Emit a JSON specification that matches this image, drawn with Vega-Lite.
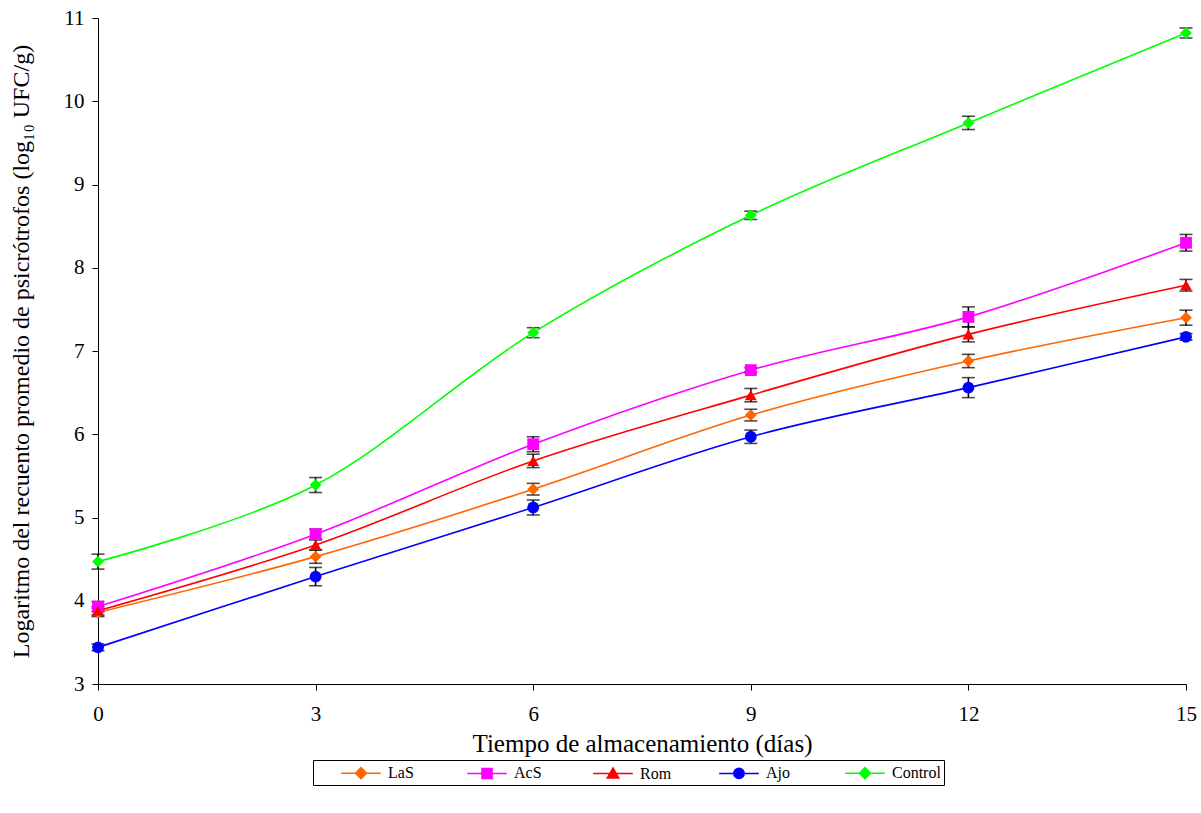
{
  "$schema": "https://vega.github.io/schema/vega-lite/v6.json",
  "width": 1088,
  "height": 666,
  "autosize": {"type": "none"},
  "padding": {"left": 98, "top": 18, "right": 15, "bottom": 129},
  "background": "white",
  "config": {"view": {"stroke": null}, "font": "Liberation Serif"},
  "data": {
    "values": [
      {"dia": 0, "serie": "LaS", "valor": 3.86, "err": 0.05},
      {"dia": 3, "serie": "LaS", "valor": 4.53, "err": 0.08},
      {"dia": 6, "serie": "LaS", "valor": 5.34, "err": 0.07},
      {"dia": 9, "serie": "LaS", "valor": 6.23, "err": 0.07},
      {"dia": 12, "serie": "LaS", "valor": 6.88, "err": 0.08},
      {"dia": 15, "serie": "LaS", "valor": 7.4, "err": 0.09},
      {"dia": 0, "serie": "AcS", "valor": 3.93, "err": 0.06},
      {"dia": 3, "serie": "AcS", "valor": 4.8, "err": 0.06},
      {"dia": 6, "serie": "AcS", "valor": 5.88, "err": 0.09},
      {"dia": 9, "serie": "AcS", "valor": 6.77, "err": 0.03},
      {"dia": 12, "serie": "AcS", "valor": 7.41, "err": 0.12},
      {"dia": 15, "serie": "AcS", "valor": 8.3, "err": 0.1},
      {"dia": 0, "serie": "Rom", "valor": 3.88, "err": 0.05},
      {"dia": 3, "serie": "Rom", "valor": 4.67, "err": 0.06},
      {"dia": 6, "serie": "Rom", "valor": 5.68, "err": 0.08},
      {"dia": 9, "serie": "Rom", "valor": 6.47, "err": 0.08},
      {"dia": 12, "serie": "Rom", "valor": 7.2, "err": 0.09},
      {"dia": 15, "serie": "Rom", "valor": 7.79, "err": 0.07},
      {"dia": 0, "serie": "Ajo", "valor": 3.44, "err": 0.04},
      {"dia": 3, "serie": "Ajo", "valor": 4.29, "err": 0.11},
      {"dia": 6, "serie": "Ajo", "valor": 5.12, "err": 0.09},
      {"dia": 9, "serie": "Ajo", "valor": 5.97, "err": 0.08},
      {"dia": 12, "serie": "Ajo", "valor": 6.56, "err": 0.12},
      {"dia": 15, "serie": "Ajo", "valor": 7.17, "err": 0.04},
      {"dia": 0, "serie": "Control", "valor": 4.47, "err": 0.09},
      {"dia": 3, "serie": "Control", "valor": 5.39, "err": 0.09},
      {"dia": 6, "serie": "Control", "valor": 7.22, "err": 0.06},
      {"dia": 9, "serie": "Control", "valor": 8.63, "err": 0.05},
      {"dia": 12, "serie": "Control", "valor": 9.74, "err": 0.08},
      {"dia": 15, "serie": "Control", "valor": 10.82, "err": 0.06}
    ]
  },
  "encoding": {
    "x": {
      "field": "dia",
      "type": "quantitative",
      "scale": {"domain": [0, 15], "nice": false, "zero": false},
      "axis": {
        "title": "Tiempo de almacenamiento (días)",
        "values": [0, 3, 6, 9, 12, 15],
        "format": "d",
        "labelFlush": false,
        "grid": false,
        "domainColor": "black",
        "domainWidth": 1,
        "tickColor": "black",
        "tickSize": 6,
        "labelFont": "Liberation Serif",
        "labelFontSize": 21,
        "labelColor": "black",
        "labelPadding": 13,
        "titleFont": "Liberation Serif",
        "titleFontSize": 25,
        "titleFontWeight": "normal",
        "titleColor": "black",
        "titlePadding": 7
      }
    },
    "y": {
      "field": "valor",
      "type": "quantitative",
      "scale": {"domain": [3, 11], "nice": false, "zero": false},
      "axis": {
        "title": "Logaritmo del recuento promedio de psicrótrofos (log₁₀ UFC/g)",
        "values": [3, 4, 5, 6, 7, 8, 9, 10, 11],
        "format": "d",
        "labelFlush": false,
        "grid": false,
        "domainColor": "black",
        "tickColor": "black",
        "tickSize": 6,
        "labelFont": "Liberation Serif",
        "labelFontSize": 21,
        "labelColor": "black",
        "labelPadding": 8,
        "titleFont": "Liberation Serif",
        "titleFontSize": 24,
        "titleFontWeight": "normal",
        "titleColor": "black",
        "titlePadding": 30
      }
    }
  },
  "layer": [
    {
      "mark": {"type": "line", "interpolate": "cardinal", "strokeWidth": 1.6},
      "encoding": {
        "color": {
          "field": "serie",
          "type": "nominal",
          "scale": {
            "domain": ["LaS", "AcS", "Rom", "Ajo", "Control"],
            "range": ["#FF6600", "#FF00FF", "#FF0000", "#0000FF", "#00FF00"]
          }
        }
      }
    },
    {
      "mark": {
        "type": "errorbar",
        "ticks": {"size": 13, "thickness": 1.6, "color": "black"},
        "rule": {"strokeWidth": 1.6, "color": "black"}
      },
      "encoding": {
        "yError": {"field": "err"}
      }
    },
    {
      "mark": {"type": "point", "filled": true, "opacity": 1},
      "encoding": {
        "color": {"field": "serie", "type": "nominal"},
        "shape": {
          "condition": [
            {"test": "datum.serie === 'AcS'", "value": "square"},
            {"test": "datum.serie === 'Rom'", "value": "triangle-up"},
            {"test": "datum.serie === 'Ajo'", "value": "circle"}
          ],
          "value": "diamond"
        },
        "size": {"value": 140}
      }
    },
    {
      "transform": [{"filter": "datum.dia < 0"}],
      "mark": {"type": "point", "filled": false, "opacity": 1, "strokeWidth": 1.5},
      "encoding": {
        "color": {
          "field": "serie",
          "type": "nominal",
          "legend": {
            "title": null,
            "orient": "none",
            "legendX": 215,
            "legendY": 742,
            "direction": "horizontal",
            "columns": 5,
            "gridAlign": "all",
            "columnPadding": 5,
            "strokeColor": "black",
            "padding": 3,
            "symbolSize": 324,
            "symbolOffset": 35,
            "labelOffset": 17,
            "symbolStrokeWidth": 1.5,
            "symbolOpacity": 1,
            "labelFont": "Liberation Serif",
            "labelFontSize": 16,
            "labelColor": "black",
            "encode": {
              "symbols": {
                "fill": {"value": {"expr": "scale('color', datum.value)"}},
                "stroke": {"value": {"expr": "scale('color', datum.value)"}}
              }
            }
          }
        },
        "shape": {
          "field": "serie",
          "type": "nominal",
          "scale": {
            "domain": ["LaS", "AcS", "Rom", "Ajo", "Control"],
            "range": [
              "M-2.2,0L2.2,0M0,-0.62L0.62,0L0,0.62L-0.62,0Z",
              "M-2.2,0L2.2,0M-0.56,-0.56L0.56,-0.56L0.56,0.56L-0.56,0.56Z",
              "M-2.2,0L2.2,0M0,-0.62L0.64,0.5L-0.64,0.5Z",
              "M-2.2,0L2.2,0M0.58,0A0.58,0.58 0 1,1 -0.58,0A0.58,0.58 0 1,1 0.58,0Z",
              "M-2.2,0L2.2,0M0,-0.62L0.62,0L0,0.62L-0.62,0Z"
            ]
          }
        },
        "size": {"value": 324}
      }
    }
  ]
}
